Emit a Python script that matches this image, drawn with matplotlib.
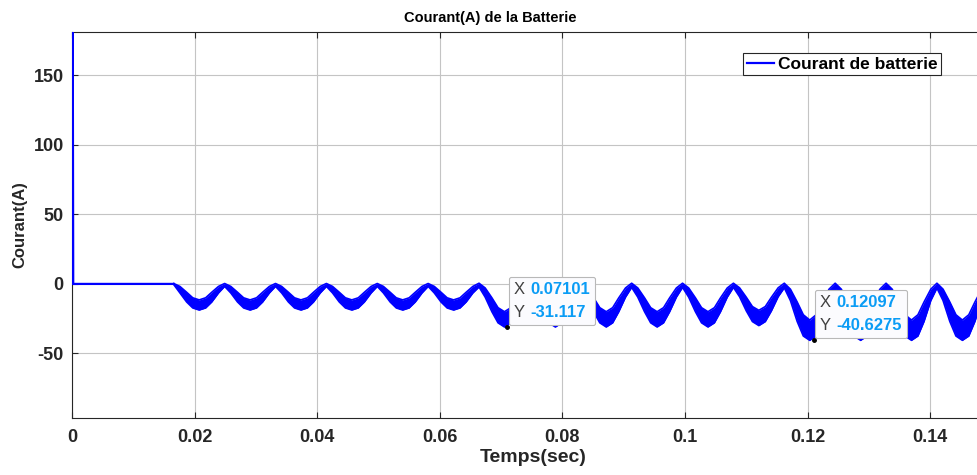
import matplotlib
matplotlib.use('Agg')
import matplotlib.pyplot as plt
from matplotlib.lines import Line2D
from matplotlib.offsetbox import TextArea, HPacker, VPacker, AnnotationBbox

plt.rcParams['font.family'] = ['Liberation Sans', 'DejaVu Sans']
plt.rcParams['axes.unicode_minus'] = False

# start-up spike, then idle current until the converter kicks in
spike_time    = [0.0, 0.0001, 0.0002, 0.0166]
spike_current = [0.0, 230.0, 0.0, 0.0]

# oscillating part : envelope of the thick (ripple) band, read cycle by cycle
osc_time = [
    0.0166, 0.0176, 0.0187, 0.0197, 0.02075, 0.0218, 0.0228, 0.0239,
    0.0249, 0.0259, 0.0270, 0.0280, 0.02905, 0.0301, 0.0311, 0.0322,
    0.0332, 0.0342, 0.0353, 0.0363, 0.03735, 0.0384, 0.0394, 0.0405,
    0.0415, 0.0425, 0.0436, 0.0446, 0.04565, 0.0467, 0.0477, 0.0488,
    0.0498, 0.0508, 0.0519, 0.0529, 0.05395, 0.0550, 0.0560, 0.0571,
    0.0581, 0.0591, 0.0602, 0.0612, 0.06225, 0.0633, 0.0643, 0.0654,
    0.0664, 0.0674, 0.0685, 0.0695, 0.07055, 0.0716, 0.0726, 0.0737,
    0.0747, 0.0757, 0.0768, 0.0778, 0.07885, 0.0799, 0.0809, 0.0820,
    0.0830, 0.0840, 0.0851, 0.0861, 0.08715, 0.0882, 0.0892, 0.0903,
    0.0913, 0.0923, 0.0934, 0.0944, 0.09545, 0.0965, 0.0975, 0.0986,
    0.0996, 0.1006, 0.1017, 0.1027, 0.10375, 0.1048, 0.1058, 0.1069,
    0.1079, 0.1089, 0.1100, 0.1110, 0.11205, 0.1131, 0.1141, 0.1152,
    0.1162, 0.1172, 0.1183, 0.1193, 0.12035, 0.1214, 0.1224, 0.1235,
    0.1245, 0.1255, 0.1266, 0.1276, 0.12865, 0.1297, 0.1307, 0.1318,
    0.1328, 0.1338, 0.1349, 0.1359, 0.13695, 0.1380, 0.1390, 0.1401,
    0.1411, 0.1421, 0.1432, 0.1442, 0.14525, 0.1463, 0.1473, 0.1484,
    0.1494,
]
osc_upper = [
    0.3, -1.8, -6.0, -10.0, -11.5, -10.0, -6.0, -1.8,
    0.3, -1.8, -6.0, -10.0, -11.5, -10.0, -6.0, -1.8,
    0.3, -1.8, -6.0, -10.0, -11.5, -10.0, -6.0, -1.8,
    0.3, -1.8, -6.0, -10.0, -11.5, -10.0, -6.0, -1.8,
    0.3, -1.8, -6.0, -10.0, -11.5, -10.0, -6.0, -1.8,
    0.3, -1.8, -6.0, -10.0, -11.5, -10.0, -6.0, -1.8,
    0.5, -2.9, -10.0, -17.1, -20.0, -17.1, -10.0, -2.9,
    0.5, -2.9, -10.0, -17.1, -20.0, -17.1, -10.0, -2.9,
    0.5, -2.9, -10.0, -17.1, -20.0, -17.1, -10.0, -2.9,
    0.5, -2.9, -10.0, -17.1, -20.0, -17.1, -10.0, -2.9,
    0.5, -2.9, -10.0, -17.1, -20.0, -17.1, -10.0, -2.9,
    0.5, -2.8, -9.6, -16.3, -19.0, -16.3, -9.6, -2.8,
    0.5, -3.8, -13.0, -22.2, -26.0, -22.2, -13.0, -3.8,
    0.5, -3.8, -13.0, -22.2, -26.0, -22.2, -13.0, -3.8,
    0.5, -3.8, -13.0, -22.2, -26.0, -22.2, -13.0, -3.8,
    0.5, -3.8, -13.0, -22.2, -26.0, -22.2, -13.0, -3.8,
    0.5,
]
osc_lower = [
    -0.5, -6.5, -13.0, -17.3, -18.8, -17.3, -13.0, -6.5,
    -1.8, -6.5, -13.0, -17.3, -18.8, -17.3, -13.0, -6.5,
    -1.8, -6.5, -13.0, -17.3, -18.8, -17.3, -13.0, -6.5,
    -1.8, -6.5, -13.0, -17.3, -18.8, -17.3, -13.0, -6.5,
    -1.8, -6.5, -13.0, -17.3, -18.8, -17.3, -13.0, -6.5,
    -1.8, -6.5, -13.0, -17.3, -18.8, -17.3, -13.0, -6.5,
    -2.2, -9.5, -20.0, -28.0, -31.0, -28.0, -20.0, -9.5,
    -2.5, -9.5, -20.0, -28.0, -31.0, -28.0, -20.0, -9.5,
    -2.5, -9.5, -20.0, -28.0, -31.0, -28.0, -20.0, -9.5,
    -2.5, -9.5, -20.0, -28.0, -31.0, -28.0, -20.0, -9.5,
    -2.5, -9.5, -20.0, -28.0, -31.0, -28.0, -20.0, -9.5,
    -2.5, -9.2, -19.4, -27.1, -30.0, -27.1, -19.4, -9.2,
    -2.8, -12.0, -27.0, -37.5, -40.6, -37.5, -27.0, -12.0,
    -3.0, -12.0, -27.0, -37.5, -40.6, -37.5, -27.0, -12.0,
    -3.0, -12.0, -27.0, -37.5, -40.6, -37.5, -27.0, -12.0,
    -3.0, -12.0, -27.0, -37.5, -40.6, -37.5, -27.0, -12.0,
    -3.0,
]

# data tips shown on the figure
tip_x      = [0.07101, 0.12097]
tip_y      = [-31.117, -40.6275]
tip_x_text = ['0.07101', '0.12097']
tip_y_text = ['-31.117', '-40.6275']

x_ticks       = [0, 0.02, 0.04, 0.06, 0.08, 0.1, 0.12, 0.14]
x_tick_labels = ['0', '0.02', '0.04', '0.06', '0.08', '0.1', '0.12', '0.14']
y_ticks       = [-50, 0, 50, 100, 150]

blue = '#0000ff'
dark = '#262626'

fig = plt.figure(figsize=(9.78, 4.75), dpi=100)
ax  = fig.add_axes([72 / 978, 57 / 475, 906 / 978, 386 / 475])

ax.plot(spike_time, spike_current, color=blue, lw=1.6, zorder=3)
ax.fill_between(osc_time, osc_lower, osc_upper, color=blue, lw=0, zorder=3)
ax.plot(osc_time, osc_upper, color=blue, lw=1.2, zorder=3)
ax.plot(osc_time, osc_lower, color=blue, lw=1.2, zorder=3)

ax.set_xlim(0, 0.1478)
ax.set_ylim(-96.5, 181.3)
ax.set_xticks(x_ticks)
ax.set_xticklabels(x_tick_labels)
ax.set_yticks(y_ticks)

ax.grid(True, color='#c4c4c4', lw=0.8)
ax.set_axisbelow(True)
ax.tick_params(direction='in', top=True, length=4, width=0.8, colors=dark,
               labelsize=13)
ax.tick_params(axis='x', pad=8)
ax.tick_params(axis='y', pad=6)
for lab in ax.get_xticklabels() + ax.get_yticklabels():
    lab.set_fontweight('bold')
for side in ['left', 'bottom', 'top']:
    ax.spines[side].set_color(dark)
    ax.spines[side].set_linewidth(0.8)
ax.spines['right'].set_visible(False)

ax.set_title('Courant(A) de la Batterie', fontsize=10.5, fontweight='bold',
             color='black', pad=7, x=0.4614)
ax.set_xlabel('Temps(sec)', fontsize=14, fontweight='bold', color=dark,
              labelpad=2, x=0.509)
ax.set_ylabel('Courant(A)', fontsize=12, fontweight='bold', color=dark,
              labelpad=4)

handle = Line2D([], [], color=blue, lw=1.6)
leg = ax.legend([handle], ['Courant de batterie'], loc='upper right',
                bbox_to_anchor=(0.959, 0.9456), borderaxespad=0,
                prop=dict(weight='bold', size=12.5), frameon=True,
                fancybox=False, edgecolor=dark, framealpha=1,
                handlelength=1.6, handletextpad=0.2, borderpad=0.2)
leg.get_frame().set_linewidth(0.8)

for x, y, sx, sy in zip(tip_x, tip_y, tip_x_text, tip_y_text):
    rows = []
    for name, val in [('X', sx), ('Y', sy)]:
        rows.append(HPacker(children=[
            TextArea(name, textprops=dict(color='#404040', fontsize=12)),
            TextArea(val, textprops=dict(color='#0a9cf5', fontsize=12,
                                         fontweight='bold'))],
            pad=0, sep=4, align='baseline'))
    box = VPacker(children=rows, pad=0, sep=6, align='left')
    ab = AnnotationBbox(box, (x, y), xybox=(4.5, 5), xycoords='data',
                        boxcoords='offset points', box_alignment=(0, 0),
                        frameon=True, pad=0.35,
                        bboxprops=dict(boxstyle='round,pad=0.35,rounding_size=0.15',
                                       fc='#fbfbfe', ec='#b8b8b8', lw=0.8),
                        zorder=5)
    ax.add_artist(ab)
    ax.plot(x, y, 'o', color='black', ms=2.5, zorder=6)

fig.savefig('out.png', dpi=100)
